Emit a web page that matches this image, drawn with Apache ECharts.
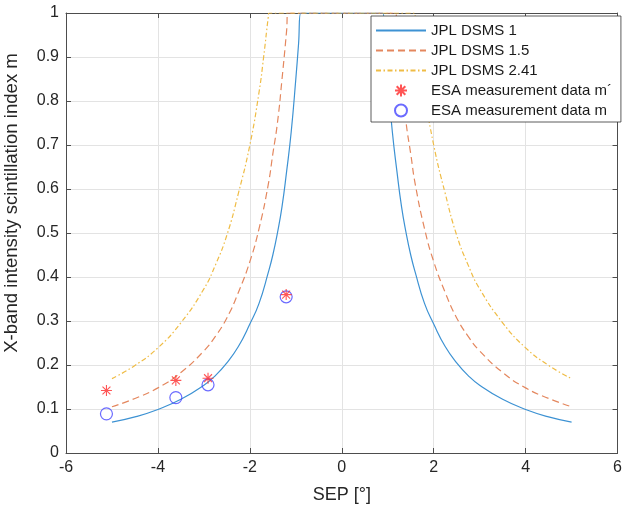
<!DOCTYPE html>
<html>
<head>
<meta charset="utf-8">
<script src="https://cdn.jsdelivr.net/npm/echarts@6/dist/echarts.min.js"></script>
<style>
  html, body { margin: 0; padding: 0; background: #fff; }
  #chart { width: 625px; height: 509px; }
</style>
</head>
<body>
<div id="chart"></div>
<script>
// values (positive SEP side; the model curves are symmetric)
const sepDsms1 = [5, 4.5, 4, 3.5, 3, 2.75, 2.5, 2.25, 2, 1.8, 1.6, 1.5, 1.4, 1.3, 1.2, 1.1, 1.0, 0.94, 0.89];
const mDsms1   = [0.070, 0.082, 0.099, 0.122, 0.154, 0.176, 0.205, 0.242, 0.293, 0.34, 0.41, 0.45, 0.50, 0.56, 0.64, 0.73, 0.85, 0.93, 1.0];

const sepDsms15 = [5, 4.5, 4, 3.5, 3, 2.75, 2.5, 2.25, 2, 1.8, 1.6, 1.5, 1.4, 1.3, 1.2, 1.17];
const mDsms15   = [0.105, 0.124, 0.148, 0.183, 0.232, 0.265, 0.307, 0.365, 0.435, 0.51, 0.61, 0.68, 0.75, 0.85, 0.96, 1.0];

const sepDsms241 = [5, 4.5, 4, 3.5, 3, 2.75, 2.5, 2.25, 2, 1.8, 1.7, 1.6, 1.58];
const mDsms241   = [0.169, 0.199, 0.239, 0.296, 0.373, 0.427, 0.495, 0.59, 0.70, 0.82, 0.90, 0.99, 1.0];

// ESA measurements
const esaSep    = [-5.12, -3.61, -2.91, -1.21];
const esaMPrime = [0.142, 0.165, 0.170, 0.360];
const esaM      = [0.089, 0.126, 0.155, 0.355];

// mirror the model curve and join both halves with the clipped top at m = 1
function modelCurve(sep, m) {
  const left = sep.map((s, i) => [-s, m[i]]);
  const right = sep.slice().reverse().map((s, i) => [s, m[m.length - 1 - i]]);
  return left.concat(right);
}
function pairs(xs, ys) {
  return xs.map((x, i) => [x, ys[i]]);
}

const font = 'Liberation Sans, Arial, Helvetica, sans-serif';
const axisColor = '#4d4d4d';
const textColor = '#262626';
const gridColor = '#e3e3e3';
const asterisk = 'path://M0,-5L0,5M-5,0L5,0M-3.6,-3.6L3.6,3.6M-3.6,3.6L3.6,-3.6';

const chart = echarts.init(document.getElementById('chart'));
chart.setOption({
  animation: false,
  backgroundColor: '#fff',
  textStyle: { fontFamily: font },
  grid: { left: 66, right: 1, top: 13, bottom: 56 },
  legend: {
    orient: 'vertical',
    left: 371,
    top: 16,
    padding: [7, 9, 4, 4],
    itemWidth: 50,
    itemHeight: 12,
    itemGap: 5,
    backgroundColor: '#fff',
    borderColor: '#333',
    borderWidth: 0.8,
    borderRadius: 0,
    textStyle: { fontSize: 15, color: '#1a1a1a', fontFamily: font },
    data: [
      { name: 'JPL DSMS 1', itemStyle: { opacity: 0 } },
      { name: 'JPL DSMS 1.5', itemStyle: { opacity: 0 } },
      { name: 'JPL DSMS 2.41', itemStyle: { opacity: 0 } },
      'ESA measurement data m´',
      'ESA measurement data m'
    ]
  },
  graphic: [{
    type: 'text',
    x: 12,
    y: 203,
    rotation: Math.PI / 2,
    style: {
      text: 'X-band intensity scintillation index m',
      fontSize: 18.6,
      fontFamily: font,
      fill: textColor,
      align: 'center',
      verticalAlign: 'middle'
    }
  }],
  xAxis: [{
    type: 'value',
    min: -6, max: 6, interval: 2,
    name: 'SEP [°]',
    nameLocation: 'middle',
    nameGap: 33,
    nameTextStyle: { fontSize: 18, color: textColor, fontFamily: font },
    axisLine: { show: true, onZero: false, lineStyle: { color: axisColor, width: 1 } },
    axisTick: { show: true, inside: true, length: 5, lineStyle: { color: axisColor } },
    axisLabel: { fontSize: 16, color: textColor, margin: 7, fontFamily: font },
    splitLine: { show: true, lineStyle: { color: gridColor, width: 1 } }
  }, {
    type: 'value',
    position: 'top',
    min: -6, max: 6, interval: 2,
    axisLine: { show: true, onZero: false, lineStyle: { color: axisColor, width: 1 } },
    axisTick: { show: true, inside: true, length: 5, lineStyle: { color: axisColor } },
    axisLabel: { show: false },
    splitLine: { show: false }
  }],
  yAxis: [{
    type: 'value',
    min: 0, max: 1, interval: 0.1,
    axisLine: { show: true, onZero: false, lineStyle: { color: axisColor, width: 1 } },
    axisTick: { show: true, inside: true, length: 5, lineStyle: { color: axisColor } },
    axisLabel: {
      fontSize: 16, color: textColor, margin: 7, fontFamily: font,
      formatter: v => (Math.round(v * 10) / 10).toString()
    },
    splitLine: { show: true, lineStyle: { color: gridColor, width: 1 } }
  }, {
    type: 'value',
    position: 'right',
    min: 0, max: 1, interval: 0.1,
    axisLine: { show: true, onZero: false, lineStyle: { color: axisColor, width: 1 } },
    axisTick: { show: true, inside: true, length: 5, lineStyle: { color: axisColor } },
    axisLabel: { show: false },
    splitLine: { show: false }
  }],
  series: [{
    name: 'JPL DSMS 1',
    type: 'line',
    data: modelCurve(sepDsms1, mDsms1),
    symbol: 'none',
    smooth: 0.5,
    lineStyle: { color: '#3d92d3', width: 1.2 },
    itemStyle: { color: '#3d92d3' }
  }, {
    name: 'JPL DSMS 1.5',
    type: 'line',
    data: modelCurve(sepDsms15, mDsms15),
    symbol: 'none',
    smooth: 0.5,
    lineStyle: { color: '#e4875e', width: 1.2, type: [7, 4] },
    itemStyle: { color: '#e4875e' }
  }, {
    name: 'JPL DSMS 2.41',
    type: 'line',
    data: modelCurve(sepDsms241, mDsms241),
    symbol: 'none',
    smooth: 0.5,
    lineStyle: { color: '#efbc45', width: 1.2, type: [5, 2.5, 1.5, 2.5] },
    itemStyle: { color: '#efbc45' }
  }, {
    name: 'ESA measurement data m´',
    type: 'scatter',
    data: pairs(esaSep, esaMPrime),
    symbol: asterisk,
    symbolSize: 11,
    itemStyle: { color: 'rgba(0,0,0,0)', borderColor: '#ff2a2a', borderWidth: 1.1 },
    z: 4
  }, {
    name: 'ESA measurement data m',
    type: 'scatter',
    data: pairs(esaSep, esaM),
    symbol: 'circle',
    symbolSize: 12,
    itemStyle: { color: 'rgba(0,0,0,0)', borderColor: '#4646ff', borderWidth: 1.2 },
    z: 3
  }]
});
</script>
</body>
</html>
